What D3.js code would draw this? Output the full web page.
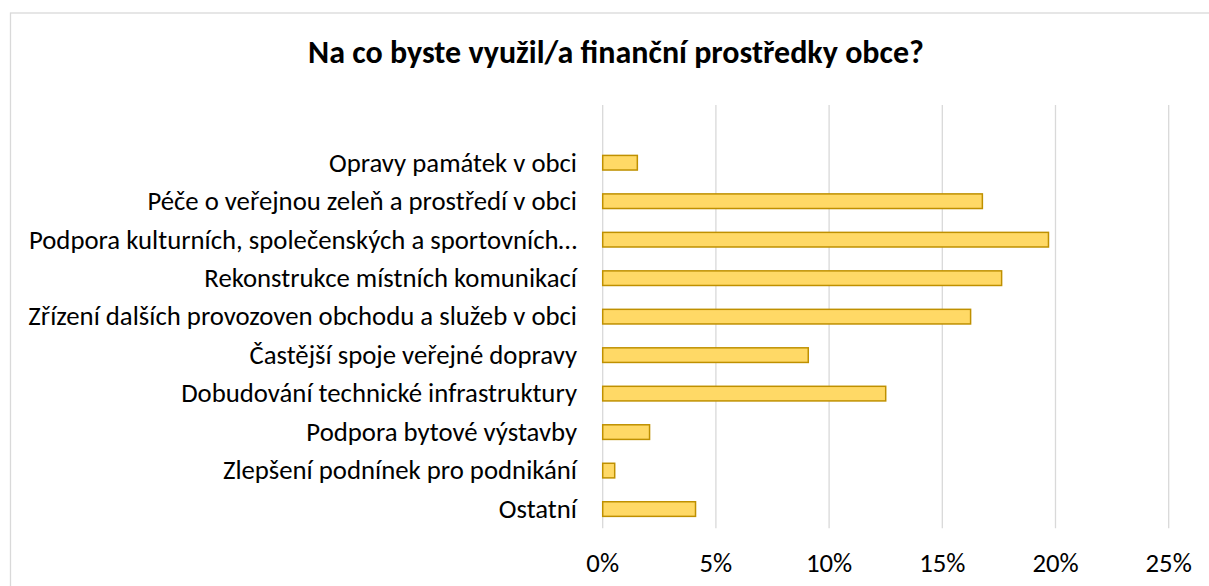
<!DOCTYPE html>
<html>
<head>
<meta charset="utf-8">
<script src="https://cdn.jsdelivr.net/npm/d3@7"></script>
<style>
  body { margin: 0; background: #fff; }
  text { font-family: Carlito, Calibri, Lato, sans-serif; fill: #000; }
</style>
</head>
<body>
<div id="bar_chart"></div>
<script>
const title = "Na co byste využil/a finanční prostředky obce?";

const categories = [
  "Opravy památek v obci",
  "Péče o veřejnou zeleň a prostředí v obci",
  "Podpora kulturních, společenských a sportovních…",
  "Rekonstrukce místních komunikací",
  "Zřízení dalších provozoven obchodu a služeb v obci",
  "Častější spoje veřejné dopravy",
  "Dobudování technické infrastruktury",
  "Podpora bytové výstavby",
  "Zlepšení podnínek pro podnikání",
  "Ostatní",
];

const values = [1.53, 16.77, 19.69, 17.62, 16.25, 9.08, 12.5, 2.07, 0.53, 4.1];

const tickValues = [0, 5, 10, 15, 20, 25];

let width = 1209;
let height = 586;
let plot = { left: 602.7, right: 1168.7, top: 105, bottom: 528.3 };

let svg = d3
  .select("#bar_chart")
  .append("svg")
  .attr("width", width)
  .attr("height", height);

// chart frame (right and bottom edges run off the picture)
svg
  .append("rect")
  .attr("x", 10.5)
  .attr("y", 13)
  .attr("width", width + 20)
  .attr("height", height + 20)
  .attr("fill", "#fff")
  .attr("stroke", "#d9d9d9")
  .attr("stroke-width", 1.3);

let xScale = d3.scaleLinear().domain([0, 25]).range([plot.left, plot.right]);

// one empty slot on top, like the original plot area
let step = (plot.bottom - plot.top) / (categories.length + 1);
let yScale = d3
  .scaleBand()
  .domain(categories)
  .range([plot.top + step, plot.bottom])
  .paddingInner(0.62)
  .paddingOuter(0.31);

// gridlines
svg
  .append("g")
  .selectAll("line")
  .data(tickValues)
  .enter()
  .append("line")
  .attr("x1", (d) => xScale(d))
  .attr("x2", (d) => xScale(d))
  .attr("y1", plot.top)
  .attr("y2", plot.bottom)
  .attr("stroke", "#d9d9d9")
  .attr("stroke-width", 1.3);

// bars
svg
  .append("g")
  .selectAll("rect")
  .data(values)
  .enter()
  .append("rect")
  .attr("x", xScale(0))
  .attr("y", (d, i) => yScale(categories[i]))
  .attr("width", (d) => xScale(d) - xScale(0))
  .attr("height", yScale.bandwidth())
  .attr("fill", "#ffd966")
  .attr("stroke", "#bf9000")
  .attr("stroke-width", 1.5);

// category labels
let labels = svg
  .append("g")
  .selectAll("text")
  .data(categories)
  .enter()
  .append("text")
  .attr("x", 577)
  .attr("y", (d) => yScale(d) + yScale.bandwidth() / 2)
  .attr("dy", "0.33em")
  .attr("text-anchor", "end")
  .style("font-size", "24px")
  .text((d) => d);

// fit font size to the reference widths
let probe = labels.filter((d) => d === "Dobudování technické infrastruktury").node();
let labelSize = (24 * 396) / probe.getComputedTextLength();
labels.style("font-size", labelSize + "px");

// x tick labels
svg
  .append("g")
  .selectAll("text")
  .data(tickValues)
  .enter()
  .append("text")
  .attr("x", (d) => xScale(d))
  .attr("y", 571.5)
  .attr("text-anchor", "middle")
  .style("font-size", labelSize + "px")
  .text((d) => d + "%");

let titleText = svg
  .append("text")
  .attr("x", 616)
  .attr("y", 63)
  .attr("text-anchor", "middle")
  .style("font-size", "28px")
  .style("font-weight", "bold")
  .text(title);
let titleSize = (28 * 616) / titleText.node().getComputedTextLength();
titleText.style("font-size", titleSize + "px");
</script>
</body>
</html>
